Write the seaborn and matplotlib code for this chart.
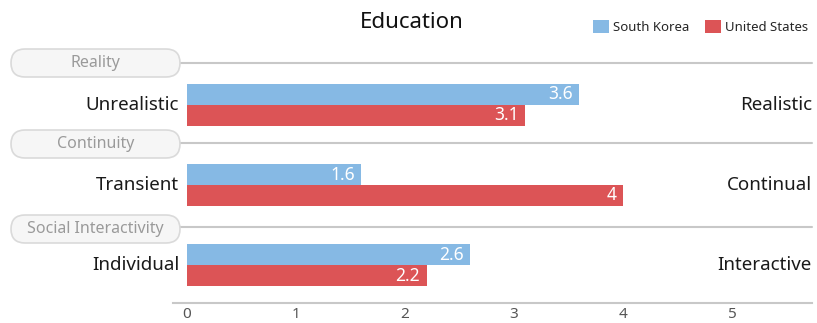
import matplotlib
matplotlib.use("Agg")
import matplotlib.pyplot as plt
from matplotlib.patches import FancyBboxPatch
from matplotlib.transforms import IdentityTransform
import seaborn as sns
import pandas as pd

# Data
dimensions = ["Reality", "Continuity", "Social Interactivity"]
low_labels = ["Unrealistic", "Transient", "Individual"]
high_labels = ["Realistic", "Continual", "Interactive"]
countries = ["South Korea", "United States"]
korea_scores = [3.6, 1.6, 2.6]
us_scores = [3.1, 4, 2.2]
x_ticks = [0, 1, 2, 3, 4, 5]

colors = {"South Korea": "#86b9e4", "United States": "#dc5456"}

df = pd.DataFrame({
    "dimension": dimensions * 2,
    "country": [countries[0]] * 3 + [countries[1]] * 3,
    "score": korea_scores + us_scores,
})

sns.set_theme(style="white")
plt.rcParams["font.family"] = ["Noto Sans", "DejaVu Sans"]

W, H = 817, 323
fig = plt.figure(figsize=(W / 100, H / 100), dpi=100)

# axes placed in pixel terms: x from 173 to 812, y from 40.6 to 303 (top-origin)
left_px, right_px, top_px, bot_px = 173, 812, 40.6, 303
ax = fig.add_axes([left_px / W, (H - bot_px) / H,
                   (right_px - left_px) / W, (bot_px - top_px) / H])

sns.barplot(data=df, y="dimension", x="score", hue="country",
            order=dimensions, hue_order=countries, palette=colors,
            width=0.52, linewidth=0, saturation=1, orient="h", ax=ax)

ax.set_xlim(-0.128, 5.734)
ax.set_ylim(2.47, -0.8)

# value labels inside bar ends
for container in ax.containers:
    for bar in container:
        v = bar.get_width()
        yc = bar.get_y() + bar.get_height() / 2
        ax.text(v - 0.06, yc, f"{v:g}", ha="right", va="center",
                color="white", fontsize=12.5)

# spines and ticks
for s in ["top", "right", "left"]:
    ax.spines[s].set_visible(False)
ax.spines["bottom"].set_color("#c8c8c8")
ax.spines["bottom"].set_linewidth(1.5)
ax.set_xticks(x_ticks)
ax.set_xticklabels([str(t) for t in x_ticks], fontsize=11, color="#555555")
ax.tick_params(axis="x", length=0, pad=3)
ax.set_yticks([])
ax.set_xlabel("")
ax.set_ylabel("")

# separators between dimensions
for yline in [-0.52, 0.48, 1.52]:
    ax.plot([-0.064, 5.734], [yline, yline], color="#c8c8c8", lw=1.5,
            clip_on=False, zorder=0)

# endpoint labels on each side
for i in range(3):
    ax.text(-0.07, i, low_labels[i], ha="right", va="center",
            fontsize=13.5, color="#1a1a1a", clip_on=False)
    ax.text(5.734, i, high_labels[i], ha="right", va="center",
            fontsize=13.5, color="#1a1a1a", clip_on=False)

# rounded dimension tags
pill_centers = [63, 144, 229]
for name, yc in zip(dimensions, pill_centers):
    x0, x1, h = 11, 180, 28
    pill = FancyBboxPatch((x0 + h / 2, H - yc - 0.01), (x1 - x0) - h, 0.02,
                          boxstyle=f"round,pad={h/2 - 0.01},rounding_size={h/2}",
                          transform=IdentityTransform(),
                          fc="#f6f6f6", ec="#dadada", lw=1.2)
    fig.add_artist(pill)
    fig.text((x0 + x1) / 2 / W, (H - yc) / H, name, ha="center", va="center",
             fontsize=11.5, color="#9a9a9a")

# title
fig.text(412 / W, 1 - 23 / H, "Education", ha="center", va="center",
         fontsize=16, color="#111111", fontweight="semibold")

# legend
ax.legend_.remove()
handles = [plt.Rectangle((0, 0), 1, 1, fc=colors[c], ec="none") for c in countries]
fig.legend(handles, countries, loc="center right",
           bbox_to_anchor=(815 / W, 1 - 27 / H), ncol=2, frameon=False,
           fontsize=9.5, handlelength=1.2, handleheight=1.2,
           handletextpad=0.3, columnspacing=1.2, borderpad=0)

fig.savefig("out.png", dpi=100)
